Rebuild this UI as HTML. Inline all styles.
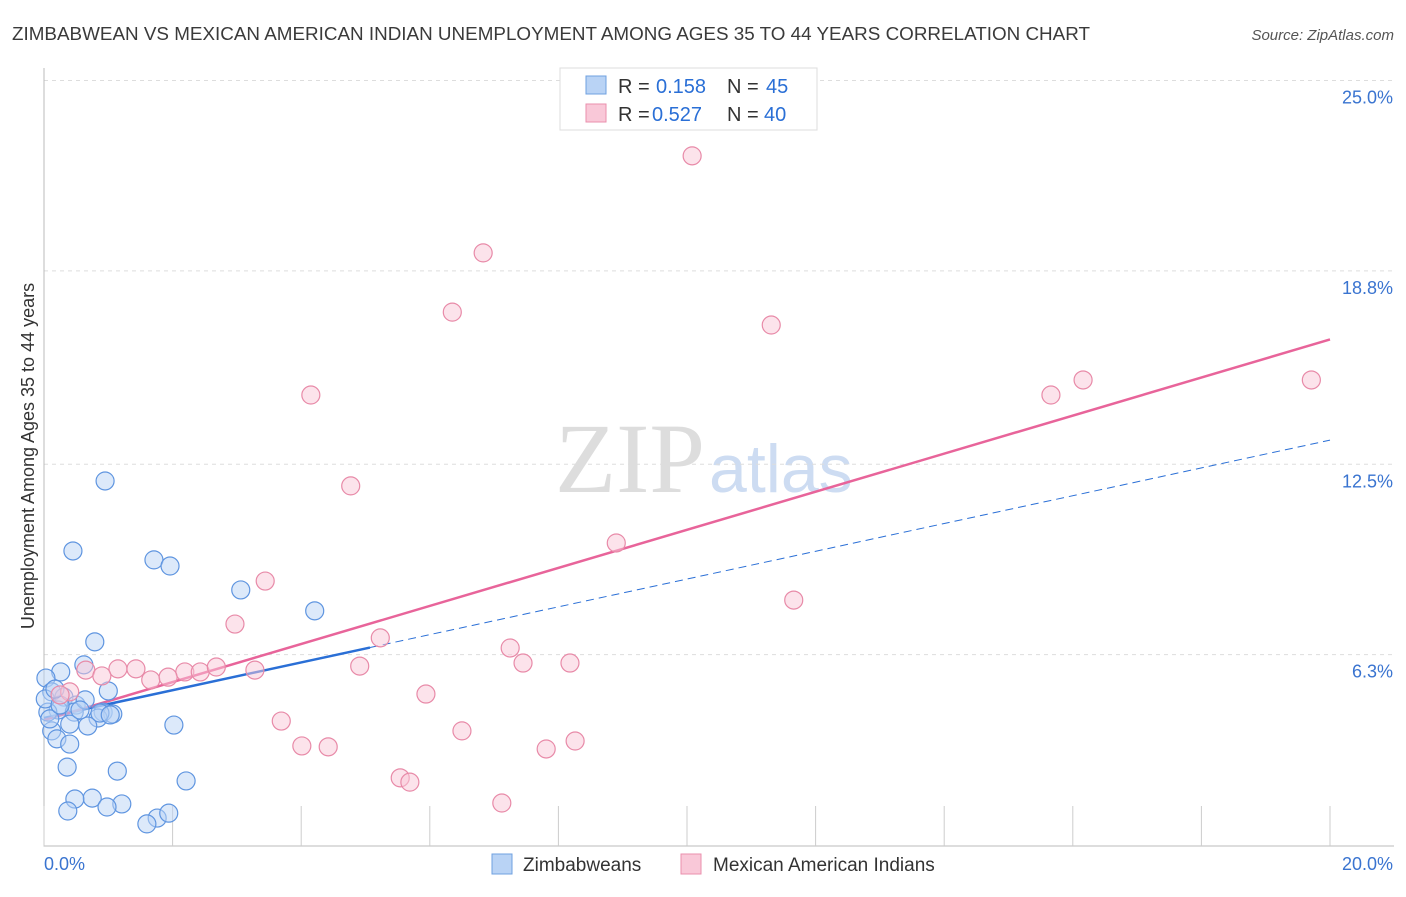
<!DOCTYPE html>
<html><head><meta charset="utf-8"><style>
body{margin:0;background:#fff;font-family:"Liberation Sans",sans-serif}
</style></head><body>
<svg id="c" width="1406" height="892" xmlns="http://www.w3.org/2000/svg" style="font-family:'Liberation Sans',sans-serif">
<text x="12" y="40" font-size="18" fill="#3a3a3a" textLength="1078" lengthAdjust="spacingAndGlyphs">ZIMBABWEAN VS MEXICAN AMERICAN INDIAN UNEMPLOYMENT AMONG AGES 35 TO 44 YEARS CORRELATION CHART</text>
<text x="1394" y="40" font-size="15" fill="#555" text-anchor="end" font-style="italic">Source: ZipAtlas.com</text>
<text transform="translate(34,456) rotate(-90)" font-size="18" fill="#333" text-anchor="middle">Unemployment Among Ages 35 to 44 years</text>
<text x="555" y="492" font-size="100" fill="#ddd" font-family="Liberation Serif">ZIP<tspan fill="#cddcf2" font-family="Liberation Sans" font-size="68" dx="4">atlas</tspan></text>
<g id="grid"></g><g id="axes"></g><g id="lines"></g><g id="pts"></g>
<g>
<rect x="560" y="68" width="257" height="62" fill="#fff" stroke="#ddd"/>
<rect x="586" y="76" width="20" height="18" fill="#b9d3f5" stroke="#6fa0e0"/>
<rect x="586" y="104" width="20" height="18" fill="#f9c8d8" stroke="#ea8fad"/>
<text x="618" y="93" font-size="20" fill="#333">R = </text><text x="656" y="93" font-size="20" fill="#2a6fd6">0.158</text>
<text x="727" y="93" font-size="20" fill="#333">N = </text><text x="766" y="93" font-size="20" fill="#2a6fd6">45</text>
<text x="618" y="121" font-size="20" fill="#333">R = </text><text x="652" y="121" font-size="20" fill="#2a6fd6">0.527</text>
<text x="727" y="121" font-size="20" fill="#333">N = </text><text x="764" y="121" font-size="20" fill="#2a6fd6">40</text>
</g>
<g>
<rect x="492" y="854" width="20" height="20" fill="#b9d3f5" stroke="#6fa0e0"/>
<text x="523" y="871" font-size="19" fill="#333">Zimbabweans</text>
<rect x="681" y="854" width="20" height="20" fill="#f9c8d8" stroke="#ea8fad"/>
<text x="713" y="871" font-size="19" fill="#333">Mexican American Indians</text>
</g>
</svg>
<script>
const yTicks=[6.3,12.5,18.8,25.0];
const yTickLabels=["6.3%","12.5%","18.8%","25.0%"];
const xTickLabels=["0.0%","20.0%"];
const blueX=[0.95,0.45,1.71,1.96,3.06,4.21,0.79,0.26,0.62,0.03,0.12,1.0,0.31,0.5,0.22,0.06,0.47,0.92,1.07,0.84,0.40,0.68,2.02,0.12,0.2,0.4,0.36,1.14,2.21,0.75,0.48,1.21,0.98,0.37,1.76,1.6,1.94,0.02,0.09,0.25,0.64,0.87,0.17,1.03,0.56];
const blueY=[11.89,9.61,9.32,9.12,8.34,7.66,6.65,5.67,5.9,5.47,5.02,5.05,4.85,4.59,4.43,4.36,4.36,4.36,4.3,4.17,3.97,3.91,3.94,3.75,3.49,3.32,2.57,2.44,2.12,1.56,1.53,1.37,1.27,1.14,0.91,0.72,1.07,4.79,4.14,4.59,4.76,4.33,5.11,4.27,4.43];
const pinkX=[10.08,6.83,6.35,11.31,4.15,15.66,16.16,19.71,4.77,8.9,3.44,11.66,2.97,5.23,7.25,7.45,8.18,4.91,1.15,1.43,0.65,1.66,2.19,2.43,2.68,3.28,0.9,1.93,0.4,5.94,3.69,6.5,4.01,4.42,8.26,7.81,5.54,5.69,7.12,0.25];
const pinkY=[22.48,19.32,17.39,16.97,14.69,14.69,15.18,15.18,11.73,9.87,8.63,8.01,7.23,6.78,6.45,5.96,5.96,5.86,5.77,5.77,5.73,5.41,5.67,5.67,5.83,5.73,5.54,5.5,5.02,4.95,4.07,3.75,3.26,3.23,3.42,3.16,2.22,2.08,1.4,4.92];
const blueFit=[4.17,13.22], pinkFit=[4.1,16.5];
const X=v=>44+v*64.3, Y=v=>846-v*30.7;
const ns="http://www.w3.org/2000/svg";
function mk(p,t,a){const e=document.createElementNS(ns,t);for(const k in a)e.setAttribute(k,a[k]);document.getElementById(p).appendChild(e);return e;}
yTicks.forEach((t,i)=>{
 const g=mk('grid','line',{x1:44,x2:1394,y1:Y(t)+2,y2:Y(t)+2,stroke:'#ddd','stroke-dasharray':'4,4'});
 
 
 const l=mk('grid','text',{x:1393,y:Y(t)+25,'font-size':18,fill:'#3a74d0','text-anchor':'end'});l.textContent=yTickLabels[i];
 
 
});
const ax=mk('axes','path',{d:'M44,68V846H1394',stroke:'#bbb',fill:'none'});


for(let i=0;i<=10;i++){const t=mk('axes','line',{x1:X(i*2),x2:X(i*2),y1:806,y2:846,stroke:'#ccc'});
 
 }
xTickLabels.forEach((s,i)=>{const t=mk('axes','text',{x:i?1393:44,y:870,'font-size':18,fill:'#3a74d0','text-anchor':i?'end':'start'});t.textContent=s;
 
 });
function pts(xs,ys,fill,stroke,name){xs.forEach((x,i)=>{const c=mk('pts','circle',{cx:X(x),cy:Y(ys[i]),r:9,fill,'fill-opacity':0.5,stroke,'stroke-width':1.2});
 
 });}
pts(blueX,blueY,'#b9d3f5','#5f95e0','zimbabwean-point');
pts(pinkX,pinkY,'#f9c8d8','#e88aa8','mexican-american-indian-point');
const bAt=x=>blueFit[0]+(blueFit[1]-blueFit[0])*x/20;
let l1=mk('lines','line',{x1:X(0),y1:Y(bAt(0)),x2:X(5.07),y2:Y(bAt(5.07)),stroke:'#2a6fd6','stroke-width':2.5});


let l2=mk('lines','line',{x1:X(5.07),y1:Y(bAt(5.07)),x2:X(20),y2:Y(bAt(20)),stroke:'#2a6fd6','stroke-width':1,'stroke-dasharray':'8,5'});


let l3=mk('lines','line',{x1:X(0),y1:Y(pinkFit[0]),x2:X(20),y2:Y(pinkFit[1]),stroke:'#e8649a','stroke-width':2.5});


</script>
</body></html>
